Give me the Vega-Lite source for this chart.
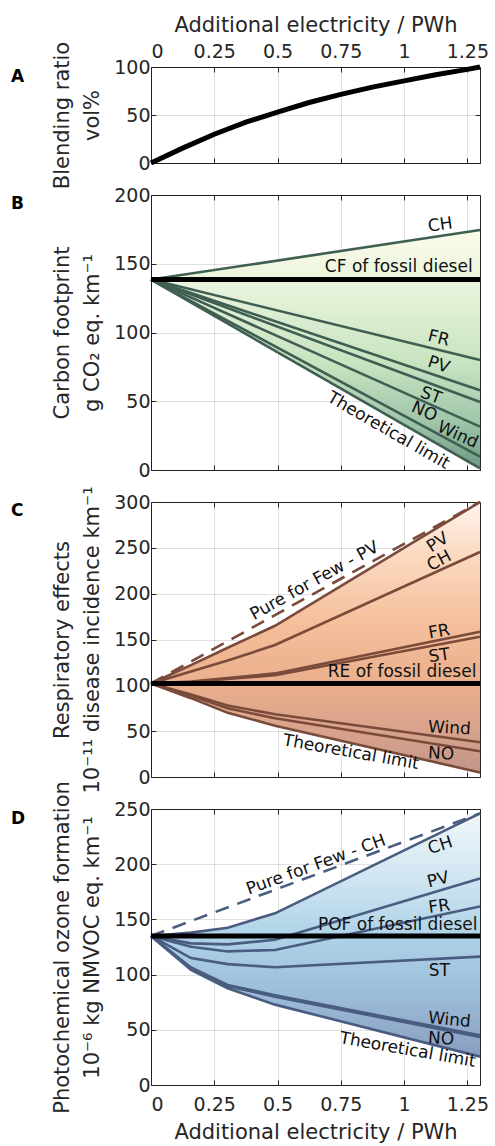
{
  "$schema": "https://vega.github.io/schema/vega-lite/v6.json",
  "background": "white",
  "padding": {"left": 10, "top": 13, "right": 5, "bottom": 0},
  "bounds": "flush",
  "spacing": 32,
  "resolve": {"scale": {"angle": "independent"}},
  "config": {
    "font": "DejaVu Sans",
    "view": {"stroke": "#262626", "strokeWidth": 1},
    "axis": {
      "labelFont": "DejaVu Sans",
      "labelFontSize": 19,
      "labelColor": "#262626",
      "titleFont": "DejaVu Sans",
      "titleFontSize": 21,
      "titleFontWeight": "normal",
      "titleColor": "#262626",
      "titleLineHeight": 30,
      "titlePadding": 11,
      "labelPadding": 6,
      "domain": false,
      "tickColor": "#262626",
      "tickSize": -5,
      "gridColor": "#000000",
      "gridOpacity": 0.12,
      "gridWidth": 1,
      "zindex": 1
    },
    "title": {
      "anchor": "start",
      "frame": "group",
      "font": "DejaVu Sans",
      "fontSize": 17,
      "fontWeight": "bold",
      "color": "#000000",
      "baseline": "alphabetic",
      "offset": 0,
      "dx": -140
    }
  },
  "datasets": {
    "blend": [
      {"x": 0, "v": 0}, {"x": 0.125, "v": 15.5}, {"x": 0.25, "v": 30}, {"x": 0.375, "v": 42.5},
      {"x": 0.5, "v": 53}, {"x": 0.625, "v": 63}, {"x": 0.75, "v": 71.5}, {"x": 0.875, "v": 79},
      {"x": 1, "v": 85.5}, {"x": 1.125, "v": 92}, {"x": 1.25, "v": 97.5}, {"x": 1.3, "v": 100}
    ],
    "cf": [
      {"series": "fossil", "x": 0, "v": 138.5}, {"series": "fossil", "x": 1.3, "v": 138.5},
      {"series": "CH", "x": 0, "v": 138.5}, {"series": "CH", "x": 1.3, "v": 174.5},
      {"series": "FR", "x": 0, "v": 138.5}, {"series": "FR", "x": 1.3, "v": 80},
      {"series": "PV", "x": 0, "v": 138.5}, {"series": "PV", "x": 1.3, "v": 58},
      {"series": "ST", "x": 0, "v": 138.5}, {"series": "ST", "x": 1.3, "v": 49.5},
      {"series": "NO", "x": 0, "v": 138.5}, {"series": "NO", "x": 1.3, "v": 31.5},
      {"series": "Wind", "x": 0, "v": 138.5}, {"series": "Wind", "x": 1.3, "v": 9.7},
      {"series": "limit", "x": 0, "v": 138.5}, {"series": "limit", "x": 1.3, "v": 1.2}
    ],
    "cf_labels": [
      {"label": "CH", "x": 1.143, "v": 178.2},
      {"label": "CF of fossil diesel", "x": 0.979, "v": 147.4},
      {"label": "FR", "x": 1.137, "v": 95.8},
      {"label": "PV", "x": 1.137, "v": 76.4},
      {"label": "ST", "x": 1.106, "v": 54},
      {"label": "NO", "x": 1.08, "v": 42.4},
      {"label": "Wind", "x": 1.212, "v": 25.5},
      {"label": "Theoretical limit", "x": 0.938, "v": 28.6}
    ],
    "re": [
      {"series": "fossil", "x": 0, "v": 102}, {"series": "fossil", "x": 1.3, "v": 102},
      {"series": "pff", "x": 0, "v": 102}, {"series": "pff", "x": 1.3, "v": 300},
      {"series": "PV", "x": 0, "v": 102}, {"series": "PV", "x": 0.158, "v": 122}, {"series": "PV", "x": 0.303, "v": 141}, {"series": "PV", "x": 0.49, "v": 165}, {"series": "PV", "x": 1.3, "v": 300},
      {"series": "CH", "x": 0, "v": 102}, {"series": "CH", "x": 0.158, "v": 115}, {"series": "CH", "x": 0.303, "v": 127}, {"series": "CH", "x": 0.49, "v": 144}, {"series": "CH", "x": 1.3, "v": 245.5},
      {"series": "FR", "x": 0, "v": 102}, {"series": "FR", "x": 0.158, "v": 104}, {"series": "FR", "x": 0.303, "v": 108}, {"series": "FR", "x": 0.49, "v": 113}, {"series": "FR", "x": 1.3, "v": 158.5},
      {"series": "ST", "x": 0, "v": 102}, {"series": "ST", "x": 0.158, "v": 103.5}, {"series": "ST", "x": 0.303, "v": 107}, {"series": "ST", "x": 0.49, "v": 111}, {"series": "ST", "x": 1.3, "v": 153},
      {"series": "Wind", "x": 0, "v": 102}, {"series": "Wind", "x": 0.158, "v": 90}, {"series": "Wind", "x": 0.303, "v": 78}, {"series": "Wind", "x": 0.49, "v": 68.5}, {"series": "Wind", "x": 1.3, "v": 38},
      {"series": "NO", "x": 0, "v": 102}, {"series": "NO", "x": 0.158, "v": 88.5}, {"series": "NO", "x": 0.303, "v": 75}, {"series": "NO", "x": 0.49, "v": 64}, {"series": "NO", "x": 1.3, "v": 28},
      {"series": "limit", "x": 0, "v": 102}, {"series": "limit", "x": 0.158, "v": 86}, {"series": "limit", "x": 0.303, "v": 70}, {"series": "limit", "x": 0.49, "v": 56}, {"series": "limit", "x": 1.3, "v": 5}
    ],
    "re_labels": [
      {"label": "Pure for Few - PV", "x": 0.646, "v": 213.9},
      {"label": "PV", "x": 1.133, "v": 255.7},
      {"label": "CH", "x": 1.139, "v": 235.7},
      {"label": "FR", "x": 1.139, "v": 158.4},
      {"label": "ST", "x": 1.139, "v": 132.2},
      {"label": "RE of fossil diesel", "x": 0.992, "v": 114.8},
      {"label": "Wind", "x": 1.179, "v": 53.1},
      {"label": "NO", "x": 1.146, "v": 25.1},
      {"label": "Theoretical limit", "x": 0.79, "v": 26.9}
    ],
    "pof": [
      {"series": "fossil", "x": 0, "v": 135}, {"series": "fossil", "x": 1.3, "v": 135},
      {"series": "pff", "x": 0, "v": 135}, {"series": "pff", "x": 1.3, "v": 246},
      {"series": "CH", "x": 0, "v": 135}, {"series": "CH", "x": 0.158, "v": 138}, {"series": "CH", "x": 0.303, "v": 142.5}, {"series": "CH", "x": 0.49, "v": 155.5}, {"series": "CH", "x": 1.3, "v": 246},
      {"series": "PV", "x": 0, "v": 135}, {"series": "PV", "x": 0.158, "v": 128.3}, {"series": "PV", "x": 0.303, "v": 127.4}, {"series": "PV", "x": 0.49, "v": 131.5}, {"series": "PV", "x": 1.3, "v": 187},
      {"series": "FR", "x": 0, "v": 135}, {"series": "FR", "x": 0.158, "v": 125.3}, {"series": "FR", "x": 0.303, "v": 121}, {"series": "FR", "x": 0.49, "v": 122.3}, {"series": "FR", "x": 1.3, "v": 161.6},
      {"series": "ST", "x": 0, "v": 135}, {"series": "ST", "x": 0.158, "v": 115}, {"series": "ST", "x": 0.303, "v": 109.5}, {"series": "ST", "x": 0.49, "v": 106.7}, {"series": "ST", "x": 1.3, "v": 116.3},
      {"series": "Wind", "x": 0, "v": 135}, {"series": "Wind", "x": 0.158, "v": 106.5}, {"series": "Wind", "x": 0.303, "v": 90.6}, {"series": "Wind", "x": 0.49, "v": 81.3}, {"series": "Wind", "x": 1.3, "v": 45},
      {"series": "NO", "x": 0, "v": 135}, {"series": "NO", "x": 0.158, "v": 105.5}, {"series": "NO", "x": 0.303, "v": 89.5}, {"series": "NO", "x": 0.49, "v": 80}, {"series": "NO", "x": 1.3, "v": 43.5},
      {"series": "limit", "x": 0, "v": 135}, {"series": "limit", "x": 0.158, "v": 104.2}, {"series": "limit", "x": 0.303, "v": 87.6}, {"series": "limit", "x": 0.49, "v": 72.8}, {"series": "limit", "x": 1.3, "v": 25.7}
    ],
    "pof_labels": [
      {"label": "Pure for Few - CH", "x": 0.652, "v": 199.3},
      {"label": "CH", "x": 1.143, "v": 216.8},
      {"label": "PV", "x": 1.135, "v": 185.7},
      {"label": "FR", "x": 1.139, "v": 161.6},
      {"label": "POF of fossil diesel", "x": 0.975, "v": 145},
      {"label": "ST", "x": 1.139, "v": 103.3},
      {"label": "Wind", "x": 1.179, "v": 58.9},
      {"label": "NO", "x": 1.146, "v": 41.7},
      {"label": "Theoretical limit", "x": 1.014, "v": 31.7}
    ]
  },
  "vconcat": [
    {
      "width": 329,
      "height": 96,
      "title": {"text": "A", "dy": 76},
      "data": {"name": "blend"},
      "resolve": {"axis": {"x": "independent", "y": "independent"}},
      "layer": [
        {
          "mark": {"type": "line", "color": "#000000", "strokeWidth": 5},
          "encoding": {
            "x": {"field": "x", "type": "quantitative", "scale": {"domain": [0, 1.3], "nice": false},
                  "axis": {"orient": "top", "values": [0, 0.25, 0.5, 0.75, 1, 1.25], "labelExpr": "'' + datum.value", "labelPadding": 11, "titlePadding": 7, "title": "Additional electricity / PWh"}},
            "y": {"field": "v", "type": "quantitative", "scale": {"domain": [0, 100], "nice": false},
                  "axis": {"values": [0, 50, 100], "title": ["Blending ratio", "vol%"]}}
          }
        },
        {
          "mark": {"type": "line", "opacity": 0},
          "encoding": {
            "x": {"field": "x", "type": "quantitative",
                  "axis": {"orient": "bottom", "values": [0, 0.25, 0.5, 0.75, 1, 1.25], "labels": false, "grid": false, "title": null}},
            "y": {"field": "v", "type": "quantitative",
                  "axis": {"orient": "right", "values": [0, 50, 100], "labels": false, "grid": false, "title": null}}
          }
        }
      ]
    },
    {
      "width": 329,
      "height": 275,
      "title": {"text": "B", "dy": 31},
      "data": {"name": "cf"},
      "resolve": {"axis": {"x": "independent", "y": "independent"}},
      "layer": [
        {
          "transform": [
            {"filter": {"field": "series", "oneOf": ["CH", "limit"]}},
            {"pivot": "series", "value": "v", "groupby": ["x"]}
          ],
          "mark": {"type": "area", "color": {"gradient": "linear", "x1": 0, "y1": 0, "x2": 0, "y2": 1,
            "stops": [{"offset": 0, "color": "#fbfce9"}, {"offset": 0.2, "color": "#ecf5de"}, {"offset": 0.55, "color": "#c9e4c2"}, {"offset": 0.8, "color": "#a1c6aa"}, {"offset": 1, "color": "#6b9882"}]}},
          "encoding": {
            "x": {"field": "x", "type": "quantitative", "scale": {"domain": [0, 1.3], "nice": false},
                  "axis": {"values": [0, 0.25, 0.5, 0.75, 1, 1.25], "labels": false, "title": null}},
            "y": {"field": "CH", "type": "quantitative", "scale": {"domain": [0, 200], "nice": false},
                  "axis": {"values": [0, 50, 100, 150, 200], "title": ["Carbon footprint", "g CO₂ eq. km⁻¹"]}},
            "y2": {"field": "limit"}
          }
        },
        {
          "transform": [{"filter": "datum.series !== 'fossil'"}],
          "mark": {"type": "line", "color": "#3f5f52", "strokeWidth": 2.6},
          "encoding": {
            "x": {"field": "x", "type": "quantitative", "axis": null},
            "y": {"field": "v", "type": "quantitative", "axis": null},
            "detail": {"field": "series"}
          }
        },
        {
          "transform": [{"filter": "datum.series === 'fossil'"}],
          "mark": {"type": "line", "color": "#000000", "strokeWidth": 5},
          "encoding": {
            "x": {"field": "x", "type": "quantitative",
                  "axis": {"orient": "top", "values": [0, 0.25, 0.5, 0.75, 1, 1.25], "labels": false, "grid": false, "title": null}},
            "y": {"field": "v", "type": "quantitative",
                  "axis": {"orient": "right", "values": [0, 50, 100, 150, 200], "labels": false, "grid": false, "title": null}}
          }
        },
        {
          "data": {"name": "cf_labels"},
          "mark": {"type": "text", "font": "DejaVu Sans", "fontSize": 17, "color": "#111111"},
          "encoding": {
            "x": {"field": "x", "type": "quantitative", "axis": null},
            "y": {"field": "v", "type": "quantitative", "axis": null},
            "text": {"field": "label"},
            "angle": {"field": "label", "type": "nominal", "legend": null,
              "scale": {"type": "ordinal", "domain": ["CH", "CF of fossil diesel", "FR", "PV", "ST", "NO", "Wind", "Theoretical limit"], "range": [-8, 0, 14, 18, 20, 24, 24, 30]}}
          }
        }
      ]
    },
    {
      "width": 329,
      "height": 275,
      "title": {"text": "C", "dy": 38},
      "data": {"name": "re"},
      "resolve": {"axis": {"x": "independent", "y": "independent"}},
      "layer": [
        {
          "transform": [
            {"filter": {"field": "series", "oneOf": ["PV", "limit"]}},
            {"pivot": "series", "value": "v", "groupby": ["x"]}
          ],
          "mark": {"type": "area", "color": {"gradient": "linear", "x1": 0, "y1": 0, "x2": 0, "y2": 1,
            "stops": [{"offset": 0, "color": "#fef4ec"}, {"offset": 0.2, "color": "#fbd9c0"}, {"offset": 0.45, "color": "#f5bf9b"}, {"offset": 0.67, "color": "#ebaf8c"}, {"offset": 0.85, "color": "#d8a28c"}, {"offset": 1, "color": "#c29689"}]}},
          "encoding": {
            "x": {"field": "x", "type": "quantitative", "scale": {"domain": [0, 1.3], "nice": false},
                  "axis": {"values": [0, 0.25, 0.5, 0.75, 1, 1.25], "labels": false, "title": null}},
            "y": {"field": "PV", "type": "quantitative", "scale": {"domain": [0, 300], "nice": false},
                  "axis": {"values": [0, 50, 100, 150, 200, 250, 300], "title": ["Respiratory effects", "10⁻¹¹ disease incidence km⁻¹"]}},
            "y2": {"field": "limit"}
          }
        },
        {
          "transform": [{"filter": "datum.series !== 'fossil' && datum.series !== 'pff'"}],
          "mark": {"type": "line", "color": "#7a4b3b", "strokeWidth": 2.6},
          "encoding": {
            "x": {"field": "x", "type": "quantitative", "axis": null},
            "y": {"field": "v", "type": "quantitative", "axis": null},
            "detail": {"field": "series"}
          }
        },
        {
          "transform": [{"filter": "datum.series === 'pff'"}],
          "mark": {"type": "line", "color": "#7a4b3b", "strokeWidth": 2.6, "strokeDash": [14, 9]},
          "encoding": {
            "x": {"field": "x", "type": "quantitative", "axis": null},
            "y": {"field": "v", "type": "quantitative", "axis": null}
          }
        },
        {
          "transform": [{"filter": "datum.series === 'fossil'"}],
          "mark": {"type": "line", "color": "#000000", "strokeWidth": 5},
          "encoding": {
            "x": {"field": "x", "type": "quantitative",
                  "axis": {"orient": "top", "values": [0, 0.25, 0.5, 0.75, 1, 1.25], "labels": false, "grid": false, "title": null}},
            "y": {"field": "v", "type": "quantitative",
                  "axis": {"orient": "right", "values": [0, 50, 100, 150, 200, 250, 300], "labels": false, "grid": false, "title": null}}
          }
        },
        {
          "data": {"name": "re_labels"},
          "mark": {"type": "text", "font": "DejaVu Sans", "fontSize": 17, "color": "#111111"},
          "encoding": {
            "x": {"field": "x", "type": "quantitative", "axis": null},
            "y": {"field": "v", "type": "quantitative", "axis": null},
            "text": {"field": "label"},
            "angle": {"field": "label", "type": "nominal", "legend": null,
              "scale": {"type": "ordinal", "domain": ["Pure for Few - PV", "PV", "CH", "FR", "ST", "RE of fossil diesel", "Wind", "NO", "Theoretical limit"], "range": [-29, -33, -28, -10, -8, 0, 3, 3, 10]}}
          }
        }
      ]
    },
    {
      "width": 329,
      "height": 276,
      "title": {"text": "D", "dy": 51},
      "data": {"name": "pof"},
      "resolve": {"axis": {"x": "independent", "y": "independent"}},
      "layer": [
        {
          "transform": [
            {"filter": {"field": "series", "oneOf": ["CH", "limit"]}},
            {"pivot": "series", "value": "v", "groupby": ["x"]}
          ],
          "mark": {"type": "area", "color": {"gradient": "linear", "x1": 0, "y1": 0, "x2": 0, "y2": 1,
            "stops": [{"offset": 0, "color": "#f1f7fb"}, {"offset": 0.27, "color": "#cfe5f1"}, {"offset": 0.5, "color": "#afd3e8"}, {"offset": 0.75, "color": "#9bbcd8"}, {"offset": 1, "color": "#8a9dbf"}]}},
          "encoding": {
            "x": {"field": "x", "type": "quantitative", "scale": {"domain": [0, 1.3], "nice": false},
                  "axis": {"values": [0, 0.25, 0.5, 0.75, 1, 1.25], "labelExpr": "'' + datum.value", "labelPadding": 15, "titlePadding": 7, "title": "Additional electricity / PWh"}},
            "y": {"field": "CH", "type": "quantitative", "scale": {"domain": [0, 250], "nice": false},
                  "axis": {"values": [0, 50, 100, 150, 200, 250], "title": ["Photochemical ozone formation", "10⁻⁶ kg NMVOC eq. km⁻¹"]}},
            "y2": {"field": "limit"}
          }
        },
        {
          "transform": [{"filter": "datum.series !== 'fossil' && datum.series !== 'pff'"}],
          "mark": {"type": "line", "color": "#4a5d80", "strokeWidth": 2.6},
          "encoding": {
            "x": {"field": "x", "type": "quantitative", "axis": null},
            "y": {"field": "v", "type": "quantitative", "axis": null},
            "detail": {"field": "series"}
          }
        },
        {
          "transform": [{"filter": "datum.series === 'pff'"}],
          "mark": {"type": "line", "color": "#4a5d80", "strokeWidth": 2.6, "strokeDash": [14, 9]},
          "encoding": {
            "x": {"field": "x", "type": "quantitative", "axis": null},
            "y": {"field": "v", "type": "quantitative", "axis": null}
          }
        },
        {
          "transform": [{"filter": "datum.series === 'fossil'"}],
          "mark": {"type": "line", "color": "#000000", "strokeWidth": 5},
          "encoding": {
            "x": {"field": "x", "type": "quantitative",
                  "axis": {"orient": "top", "values": [0, 0.25, 0.5, 0.75, 1, 1.25], "labels": false, "grid": false, "title": null}},
            "y": {"field": "v", "type": "quantitative",
                  "axis": {"orient": "right", "values": [0, 50, 100, 150, 200, 250], "labels": false, "grid": false, "title": null}}
          }
        },
        {
          "data": {"name": "pof_labels"},
          "mark": {"type": "text", "font": "DejaVu Sans", "fontSize": 17, "color": "#111111"},
          "encoding": {
            "x": {"field": "x", "type": "quantitative", "axis": null},
            "y": {"field": "v", "type": "quantitative", "axis": null},
            "text": {"field": "label"},
            "angle": {"field": "label", "type": "nominal", "legend": null,
              "scale": {"type": "ordinal", "domain": ["Pure for Few - CH", "CH", "PV", "FR", "POF of fossil diesel", "ST", "Wind", "NO", "Theoretical limit"], "range": [-20, -18, -14, -8, 0, 0, 5, 3, 10]}}
          }
        }
      ]
    }
  ]
}
